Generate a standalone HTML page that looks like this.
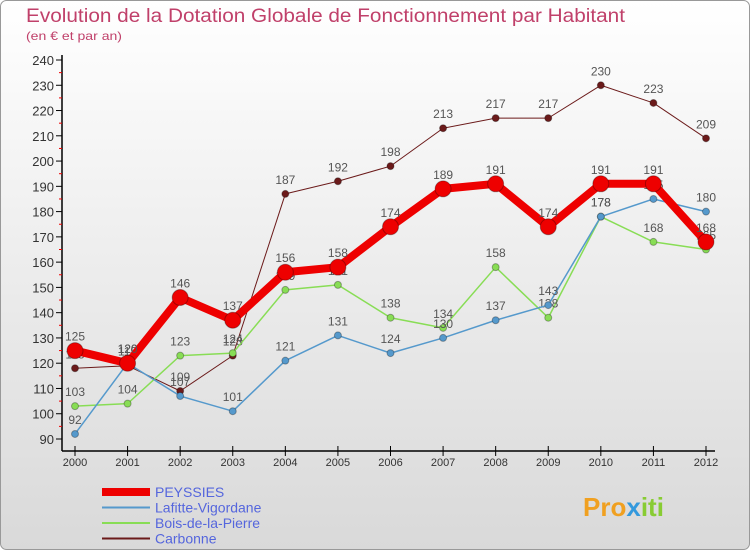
<!DOCTYPE html>
<html><head><meta charset="utf-8"><style>
body{margin:0;width:750px;height:550px;overflow:hidden;font-family:"Liberation Sans",sans-serif}
svg text{font-family:"Liberation Sans",sans-serif}
</style></head><body>
<svg id="c" width="750" height="550">
<defs><linearGradient id="bg" x1="0" y1="0" x2="0" y2="1"><stop offset="0" stop-color="#ffffff"/><stop offset="1" stop-color="#d9d9d9"/></linearGradient></defs>
<rect x="0.5" y="0.5" width="749" height="549" rx="6" fill="url(#bg)" stroke="#999"/>
<text x="26" y="22" font-size="19" fill="#c0406a" textLength="599" lengthAdjust="spacingAndGlyphs">Evolution de la Dotation Globale de Fonctionnement par Habitant</text>
<text x="26" y="40" font-size="12" fill="#c0406a" textLength="96" lengthAdjust="spacingAndGlyphs">(en € et par an)</text>
<g id="axes"></g><g id="series"></g><g id="legend"></g>
<g><text x="583" y="516" font-size="26" font-weight="bold" fill="#f0a020">Pro<tspan fill="#3399dd">x</tspan><tspan fill="#88cc33">iti</tspan></text></g>
</svg>
<script>
const years=[2000,2001,2002,2003,2004,2005,2006,2007,2008,2009,2010,2011,2012];
const peyssies=[125,120,146,137,156,158,174,189,191,174,191,191,168];
const lafitte=[92,120,107,101,121,131,124,130,137,143,178,185,180];
const bois=[103,104,123,124,149,151,138,134,158,138,178,168,165];
const carbonne=[118,119,109,123,187,192,198,213,217,217,230,223,209];
const yTicks=[90,100,110,120,130,140,150,160,170,180,190,200,210,220,230,240];
const names=["PEYSSIES","Lafitte-Vigordane","Bois-de-la-Pierre","Carbonne"];
const NS="http://www.w3.org/2000/svg";
const X=i=>75+i*(706-75)/12;
const Y=v=>439-(v-90)*(439-60)/150;
function mk(t,a,p){const e=document.createElementNS(NS,t);for(const k in a)e.setAttribute(k,a[k]);p.appendChild(e);return e;}
const ax=document.getElementById('axes');
mk('line',{x1:62,y1:55,x2:62,y2:451,stroke:'#000','stroke-width':1.5},ax);
mk('line',{x1:62,y1:451,x2:715,y2:451,stroke:'#000','stroke-width':1.5},ax);
yTicks.forEach(v=>{
 mk('line',{x1:56,y1:Y(v),x2:62,y2:Y(v),stroke:'#000'},ax);
 if(v<240)mk('line',{x1:59,y1:Y(v+5),x2:62,y2:Y(v+5),stroke:'#e00'},ax);
 const t=mk('text',{x:54,y:Y(v)+5,'text-anchor':'end','font-size':13,fill:'#333'},ax);t.textContent=v;
 
 
});
years.forEach((y,i)=>{
 mk('line',{x1:X(i),y1:446,x2:X(i),y2:456,stroke:'#000'},ax);
 const t=mk('text',{x:X(i),y:466,'text-anchor':'middle','font-size':11,fill:'#333'},ax);t.textContent=y;
 
 
});
const sg=document.getElementById('series');
const defs=[[carbonne,'#6b1a1a',1,3.5,'carbonne'],[bois,'#88dd55',1.5,3.5,'bois-de-la-pierre'],[lafitte,'#5599cc',1.5,3.5,'lafitte-vigordane'],[peyssies,'#ee0000',8,8,'peyssies']];
defs.forEach(([d,c,w,r,n])=>{
 const g=mk('g',{},sg);
 
 
 mk('polyline',{points:d.map((v,i)=>X(i)+','+Y(v)).join(' '),fill:'none',stroke:c,'stroke-width':w,'stroke-linejoin':'round'},g);
 d.forEach((v,i)=>{
  const p=mk('circle',{cx:X(i),cy:Y(v),r:r,fill:c,stroke:'rgba(0,0,0,0.3)'},g);
  
  
  const t=mk('text',{x:X(i),y:Y(v)-10,'text-anchor':'middle','font-size':12,fill:'#555'},g);t.textContent=v;
 });
});
const lg=document.getElementById('legend');
const lc=['#ee0000','#5599cc','#88dd55','#6b1a1a'],lw=[8,2,2,2];
names.forEach((n,i)=>{
 const y=492+i*15.5;
 const g=mk('g',{},lg);
 
 
 mk('line',{x1:102,y1:y,x2:150,y2:y,stroke:lc[i],'stroke-width':lw[i]},g);
 const t=mk('text',{x:155,y:y+5,'font-size':14,fill:'#5566dd'},g);t.textContent=n;
});
</script>
</body></html>
